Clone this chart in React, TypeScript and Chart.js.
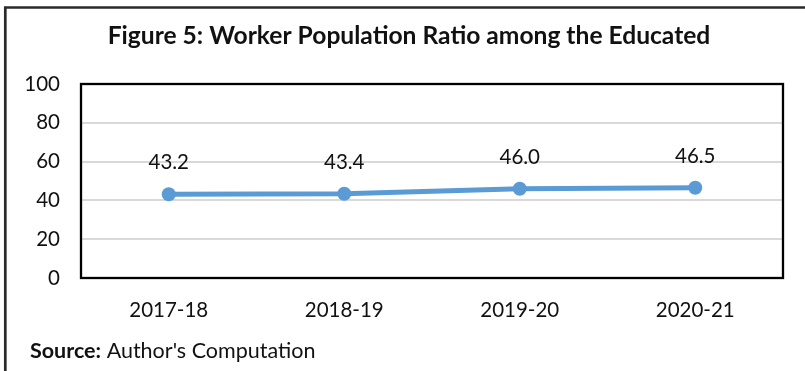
import { useEffect, useRef } from 'react';
import { Chart, registerables } from 'chart.js';

Chart.register(...registerables);

const categories: string[] = ['2017-18', '2018-19', '2019-20', '2020-21'];
const workerRatio: number[] = [43.2, 43.4, 46.0, 46.5];
const yMin = 0;
const yMax = 100;
const yStep = 20;
const titleText = 'Figure 5: Worker Population Ratio among the Educated';
const sourceLabel = 'Source:';
const sourceText = " Author's Computation";

const FONT = 'Lato, "Noto Sans", sans-serif';
const TEXT = '#111111';

const decorPlugin = {
  id: 'decor',
  afterDraw(chart: any) {
    const ctx = chart.ctx as CanvasRenderingContext2D;
    const a = chart.chartArea;
    ctx.save();
    // outer frame (cut at right/bottom)
    ctx.strokeStyle = '#2a2a2a';
    ctx.lineWidth = 2.7;
    ctx.beginPath();
    ctx.moveTo(5.3, 400);
    ctx.lineTo(5.3, 7.5);
    ctx.lineTo(820, 7.5);
    ctx.stroke();
    // plot border
    ctx.strokeStyle = '#000000';
    ctx.lineWidth = 2.3;
    ctx.strokeRect(a.left, a.top, a.right - a.left, a.bottom - a.top);
    // title
    ctx.fillStyle = TEXT;
    ctx.textBaseline = 'alphabetic';
    ctx.textAlign = 'center';
    ctx.font = `bold 24.6px ${FONT}`;
    ctx.fillText(titleText, 409, 44);
    // data labels
    ctx.font = `20.5px ${FONT}`;
    const meta = chart.getDatasetMeta(0);
    meta.data.forEach((p: any, i: number) => {
      ctx.fillText(workerRatio[i].toFixed(1), p.x, p.y - 25);
    });
    // source
    ctx.textAlign = 'left';
    ctx.font = `bold 21.5px ${FONT}`;
    ctx.fillText(sourceLabel, 30, 358);
    const w = ctx.measureText(sourceLabel).width;
    ctx.font = `21.5px ${FONT}`;
    ctx.fillText(sourceText, 30 + w, 358);
    ctx.restore();
  },
};

export default function App() {
  const ref = useRef<HTMLCanvasElement>(null);
  useEffect(() => {
    document.body.style.margin = '0';
    const chart = new Chart(ref.current!, {
      type: 'line',
      data: {
        labels: categories,
        datasets: [
          {
            data: workerRatio,
            borderColor: '#5B9BD5',
            backgroundColor: '#5B9BD5',
            borderWidth: 5,
            pointRadius: 7,
            pointHoverRadius: 7,
            pointBackgroundColor: '#5B9BD5',
            pointBorderWidth: 0,
            tension: 0,
          },
        ],
      },
      options: {
        responsive: false,
        animation: false,
        layout: { padding: { top: 84, right: 22, left: 0, bottom: 0 } },
        plugins: {
          legend: { display: false },
          title: { display: false },
          tooltip: { enabled: false },
        },
        scales: {
          x: {
            offset: true,
            grid: { display: false, drawTicks: false },
            border: { display: false },
            ticks: {
              padding: 20,
              color: TEXT,
              font: { family: FONT, size: 20.5 },
              maxRotation: 0,
            },
            afterFit(scale: any) {
              scale.height = 93;
            },
          },
          y: {
            min: yMin,
            max: yMax,
            grid: { color: '#d9d9d9', lineWidth: 2, drawTicks: false },
            border: { display: false },
            ticks: {
              stepSize: yStep,
              padding: 21,
              color: TEXT,
              font: { family: FONT, size: 20.5 },
            },
            afterFit(scale: any) {
              scale.width = 81;
            },
          },
        },
      },
      plugins: [decorPlugin],
    });
    return () => chart.destroy();
  }, []);
  return (
    <div style={{ width: 805, height: 371, background: '#fff' }}>
      <canvas ref={ref} width={805} height={371} style={{ display: 'block' }} />
    </div>
  );
}
